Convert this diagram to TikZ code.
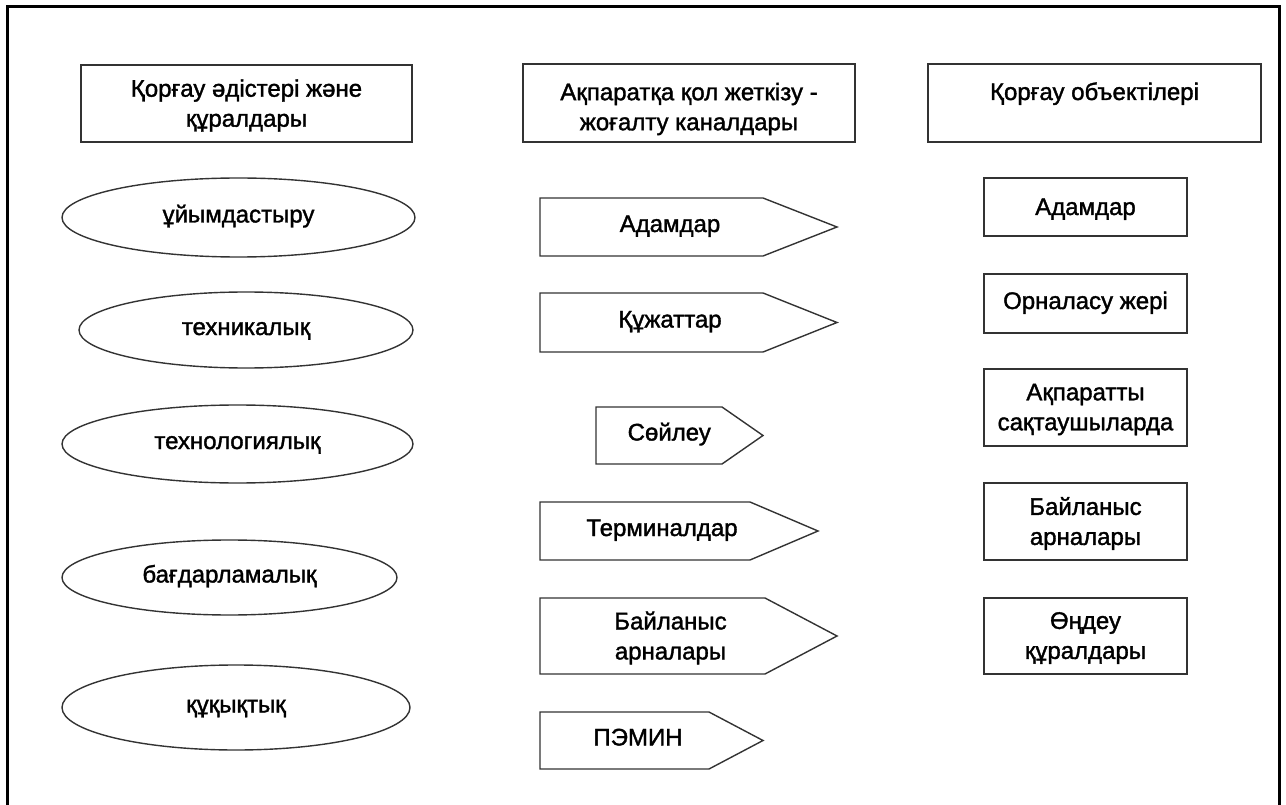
\documentclass[tikz,border=0pt]{standalone}
\usepackage{fontspec}
\setmainfont[FakeBold=1.5]{Liberation Sans}
\usetikzlibrary{shapes.geometric}
\begin{document}
\begin{tikzpicture}[x=1pt,y=-1pt,
  every node/.style={font=\fontsize{24}{30}\selectfont, align=center, inner sep=0pt},
  oneline/.style={text height=10pt, text depth=0pt},
  twoline/.style={yshift=-2pt},
  line/.style={draw=black!80, line width=1.4pt},
  headbox/.style={line, fill=white},
  methodell/.style={line, ellipse, oneline},
  objbox/.style={line}
]
\useasboundingbox (0,0) rectangle (1286,805);
% outer frame (bottom edge lies outside the page)
\draw[line width=3pt] (7,820) -- (7,7) -- (1279,7) -- (1279,820);

% column headers
\draw[headbox] (81,65) rectangle (412,142);
\node[twoline] (h1) at (246.5,103.5) {Қорғау әдістері және\\құралдары};
\draw[headbox] (523,64) rectangle (855,142);
\node[twoline] (h2) at (689,107) {Ақпаратқа қол жеткізу -\\жоғалту каналдары};
\draw[headbox] (928,64) rectangle (1261,142);
\node[oneline] (h3) at (1094.5,95) {Қорғау объектілері};

% protection methods
\node[methodell, minimum width=353pt, minimum height=79pt] (m1) at (238.5,217.5) {ұйымдастыру};
\node[methodell, minimum width=334pt, minimum height=76pt] (m2) at (246,330) {техникалық};
\node[methodell, minimum width=351pt, minimum height=78pt] (m3) at (237.5,444) {технологиялық};
\node[methodell, minimum width=335pt, minimum height=75pt] (m4) at (229.5,577.5) {бағдарламалық};
\node[methodell, minimum width=348pt, minimum height=85pt] (m5) at (236,707.5) {құқықтық};

% access / leakage channels: pentagon arrows
% #1 name, #2 left, #3 notch, #4 tip, #5 top, #6 bottom, #7 style, #8 text
\newcommand{\chanarrow}[8]{%
  \draw[line] (#2,#5) -- (#3,#5) -- (#4,{(#5+#6)/2}) -- (#3,#6) -- (#2,#6) -- cycle;
  \node[#7] (#1) at ({(2*#2+#3+#4)/4},{(#5+#6)/2}) {#8};}
\chanarrow{c1}{540}{763}{837}{198}{256}{oneline}{Адамдар}
\chanarrow{c2}{540}{763}{837}{293}{352}{oneline}{Құжаттар}
\chanarrow{c3}{596}{722}{763}{407}{464}{oneline}{Сөйлеу}
\chanarrow{c4}{540}{750}{818}{502}{560}{oneline}{Терминалдар}
\chanarrow{c5}{540}{765}{837}{598}{674}{twoline}{Байланыс\\арналары}
\chanarrow{c6}{540}{709}{763}{712}{769}{oneline}{ПЭМИН}

% protected objects
\draw[objbox] (984,178) rectangle (1187,236);
\node[oneline] (o1) at (1085.5,210) {Адамдар};
\draw[objbox] (984,274) rectangle (1187,333);
\node[oneline] (o2) at (1085.5,304) {Орналасу жері};
\draw[objbox] (984,369) rectangle (1187,446);
\node[twoline] (o3) at (1085.5,407.5) {Ақпаратты\\сақтаушыларда};
\draw[objbox] (984,483) rectangle (1187,560);
\node[twoline] (o4) at (1085.5,521.5) {Байланыс\\арналары};
\draw[objbox] (984,598) rectangle (1187,674);
\node[twoline] (o5) at (1085.5,636) {Өңдеу\\құралдары};
\end{tikzpicture}
\end{document}
